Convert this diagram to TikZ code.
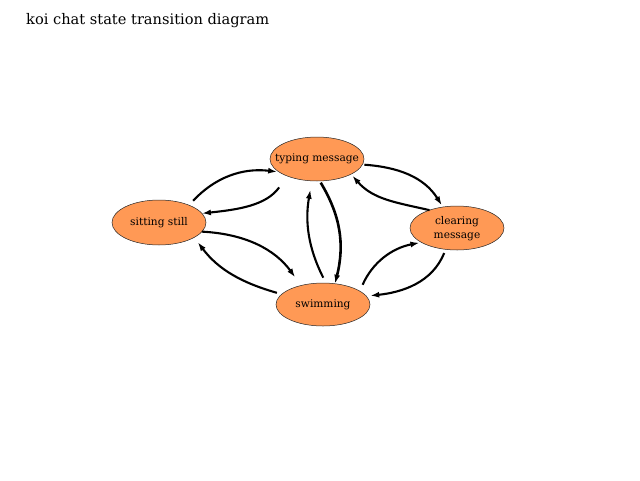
\documentclass[tikz,border=0pt]{standalone}
\usepackage{fontspec}
\setmainfont{DejaVu Serif}
\usetikzlibrary{shapes.geometric,arrows.meta}
\definecolor{koifill}{HTML}{FF9955}
\tikzset{
  state/.style={ellipse,draw=black!85,line width=0.5pt,fill=koifill,
    minimum width=94pt,minimum height=44pt,inner sep=0pt,outer sep=0pt},
  statetext/.style={align=center,font=\fontsize{10.6pt}{14.5pt}\selectfont,inner sep=0pt},
  trans/.style={line width=2.1pt,-{Latex[length=9pt,width=6pt]}},
  heavy/.style={line width=2.6pt,-{Latex[length=9pt,width=6pt]}}
}
\begin{document}
\begin{tikzpicture}[x=1pt,y=1pt]
\useasboundingbox (0,0) rectangle (640,-480);
\node[anchor=base west,inner sep=0pt,font=\fontsize{14.6pt}{16pt}\selectfont] (title) at (26,-24) {koi chat state transition diagram};
\node[state,label={[statetext]center:typing message}] (typ) at (317,-159) {};
\node[state,minimum height=45pt,label={[statetext]center:sitting still}] (sit) at (159,-222.5) {};
\node[state,label={[statetext,yshift=-0.5pt]center:{clearing\\message}}] (clr) at (457,-228) {};
\node[state,minimum height=43pt,label={[statetext]center:swimming}] (swm) at (323,-304.5) {};

\draw[trans,shorten <=6pt,shorten >=2pt] (sit.30) to[out=47,in=173] (typ.199);
\draw[trans,shorten <=14pt] (typ.210) to[out=234,in=6] (sit.12);
\draw[trans,shorten >=10pt] (sit.-12) to[out=-3,in=126] (swm.139);
\draw[trans,shorten <=5pt,shorten >=6pt] (swm.166) to[out=164,in=-53] (sit.-23);
\draw[heavy,shorten <=2pt] (typ.-83) to[out=-59,in=76] (swm.60);
\draw[trans,shorten <=6pt,shorten >=9pt] (swm.82) to[out=117,in=260] (typ.257);
\draw[trans,shorten <=2pt,shorten >=2pt] (typ.-7) to[out=-4,in=122] (clr.124);
\draw[trans,shorten >=2pt] (clr.147) to[out=167,in=-49] (typ.-24);
\draw[trans,shorten <=4pt,shorten >=4pt] (clr.242) to[out=248,in=6] (swm.11);
\draw[trans,shorten <=7pt,shorten >=2pt] (swm.20) to[out=66,in=191] (clr.202);
\end{tikzpicture}
\end{document}
